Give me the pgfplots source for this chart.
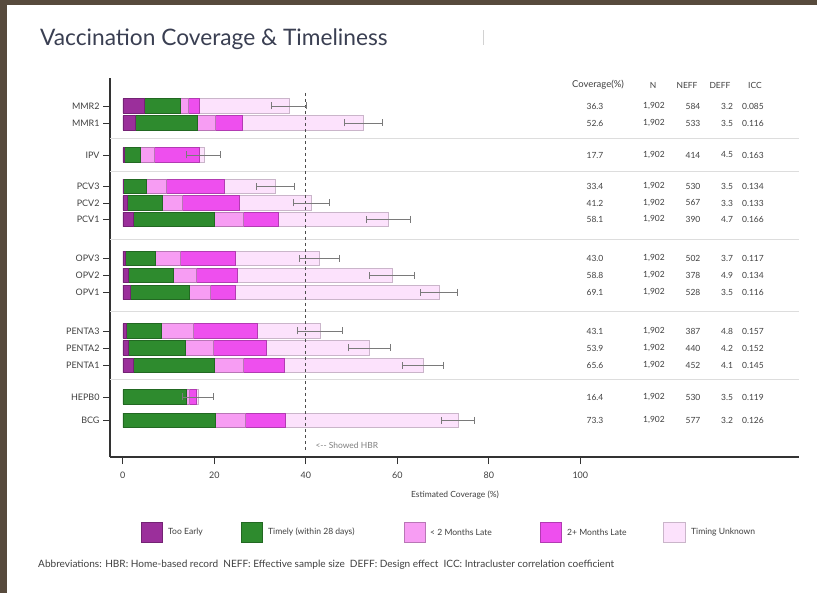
\documentclass[border=0pt]{standalone}
\usepackage{pgfplots}
\usepackage{pgfplotstable}
\pgfplotsset{compat=1.18}
\usepackage{fontspec}
\setmainfont{Lato}
\definecolor{early}{HTML}{9B2F9B}
\definecolor{timely}{HTML}{2E8B2E}
\definecolor{lt2}{HTML}{F79DF3}
\definecolor{ge2}{HTML}{EE4FEE}
\definecolor{unk}{HTML}{FCE2FC}
\definecolor{framec}{HTML}{574A3C}
\definecolor{titlec}{HTML}{3A3F52}
\definecolor{txt}{HTML}{404040}
\definecolor{errc}{HTML}{7A7A7A}
\definecolor{sepc}{HTML}{DDDDDD}

\pgfplotstableread{
y      early timely lt2 ge2  unk  cov  err
-106   4.7   7.8   1.9  2.3  19.6 36.3 3.8
-123   2.8   13.4  4.1  5.9  26.4 52.6 4.2
-155   0.3   3.5   3.0  9.9  1.0  17.7 3.7
-186.5 0.2   4.9   4.4  12.6 11.3 33.4 4.1
-203   0.9   7.8   4.3  12.5 15.7 41.2 4.0
-219.5 2.2   17.8  6.4  7.6  24.1 58.1 4.8
-258.5 0.6   6.5   5.4  12.0 18.5 43.0 4.3
-275.5 1.2   9.9   4.9  9.1  33.7 58.8 5.0
-292.5 1.6   13.0  4.5  5.4  44.6 69.1 4.0
-331   0.7   7.6   7.0  14.0 13.8 43.1 5.0
-348   1.2   12.5  6.0  11.6 22.6 53.9 4.6
-365.5 2.2   17.8  6.4  8.9  30.3 65.6 4.4
-397   0.0   13.8  0.8  1.4  0.4  16.4 3.4
-420.5 0.0   20.1  6.7  8.6  37.9 73.3 3.6
}\data

\pgfplotsset{base/.style={
  scale only axis, width=689bp, height=379bp,
  at={(110bp,136bp)}, anchor=south west,
  xmin=-2.8, xmax=147.8, ymin=-457, ymax=-78,
}}

\begin{document}
\begin{tikzpicture}
\useasboundingbox (0,0) rectangle (817bp,593bp);
\begin{scope}[x=1bp,y=1bp]
\fill[framec] (0,0) rectangle (817,593);
\fill[white] (7,0) rectangle (817,588);
\node[anchor=base west, text=titlec, inner sep=0pt, font=\fontsize{22.8}{26}\selectfont] at (40,547) {Vaccination Coverage \& Timeliness};
\draw[gray!35, line width=0.8] (483,548) -- (483,563);
\end{scope}

\begin{axis}[base,
  axis x line=bottom, axis y line=left,
  axis line style={-, line width=1.1pt, color=black!80},
  xtick={0,20,40,60,80,100},
  ytick={-106,-123,-155,-186.5,-203,-219.5,-258.5,-275.5,-292.5,-331,-348,-365.5,-397,-420.5},
  yticklabels={MMR2,MMR1,IPV,PCV3,PCV2,PCV1,OPV3,OPV2,OPV1,PENTA3,PENTA2,PENTA1,HEPB0,BCG},
  tick align=outside, major tick length=7bp,
  tick style={line width=0.8pt, color=black!80},
  ticklabel style={font=\fontsize{9}{10}\selectfont, text=txt},
  xticklabel style={yshift=-4bp},
  /pgf/number format/assume math mode=true,
  xbar stacked, bar width=14.5,
]
\addplot[fill=early, draw=early!75!black, line width=0.5pt] table[x=early, y=y] {\data};
\addplot[fill=timely, draw=timely!75!black, line width=0.5pt] table[x=timely, y=y] {\data};
\addplot[fill=lt2, draw=lt2!75!black, line width=0.5pt] table[x=lt2, y=y] {\data};
\addplot[fill=ge2, draw=ge2!75!black, line width=0.5pt] table[x=ge2, y=y] {\data};
\addplot[fill=unk, draw=unk!80!black, line width=0.5pt] table[x=unk, y=y] {\data};
\end{axis}

\begin{axis}[base, hide axis]
\addplot[sepc, line width=1.2pt] coordinates {(-2.8,-138.3) (147.8,-138.3)};
\addplot[sepc, line width=1.2pt] coordinates {(-2.8,-171.7) (147.8,-171.7)};
\addplot[sepc, line width=1.2pt] coordinates {(-2.8,-239.3) (147.8,-239.3)};
\addplot[sepc, line width=1.2pt] coordinates {(-2.8,-311.7) (147.8,-311.7)};
\addplot[sepc, line width=1.2pt] coordinates {(-2.8,-379.3) (147.8,-379.3)};
\addplot[black!70, line width=1.1pt, dash pattern=on 3bp off 3bp] coordinates {(40,-93) (40,-450)};
\addplot[draw=none, mark=none,
  error bars/.cd, x dir=both, x explicit,
  error bar style={line width=0.8pt, draw=errc},
  error mark options={rotate=90, line width=0.8pt, draw=errc, mark size=3.5bp}]
  table[x=cov, y=y, x error=err] {\data};
\end{axis}

\begin{scope}[x=1bp,y=1bp]
% x label and annotation
\node[text=txt, font=\fontsize{8.5}{10}\selectfont] at (455,98) {Estimated Coverage (\%)};
\node[anchor=west, text=gray, font=\fontsize{8.5}{10}\selectfont] at (312,148) {<{-}{-} Showed HBR};

% table
\begin{scope}[every node/.style={text=txt, font=\fontsize{8.5}{10}\selectfont, inner sep=0pt}]
\node[font=\fontsize{9.5}{11}\selectfont] at (598,508) {Coverage(\%)};
\node at (653,508) {N};
\node at (687,508) {NEFF};
\node at (720,508) {DEFF};
\node at (755,508) {ICC};
\foreach \yy/\c/\ne/\d/\i in {
 106/36.3/584/3.2/0.085,
 123/52.6/533/3.5/0.116,
 155/17.7/414/4.5/0.163,
 186.5/33.4/530/3.5/0.134,
 203/41.2/567/3.3/0.133,
 219.5/58.1/390/4.7/0.166,
 258.5/43.0/502/3.7/0.117,
 275.5/58.8/378/4.9/0.134,
 292.5/69.1/528/3.5/0.116,
 331/43.1/387/4.8/0.157,
 348/53.9/440/4.2/0.152,
 365.5/65.6/452/4.1/0.145,
 397/16.4/530/3.5/0.119,
 420.5/73.3/577/3.2/0.126}{
  \node at (595,593-\yy) {\c};
  \node at (654,593-\yy) {1,902};
  \node at (693,593-\yy) {\ne};
  \node at (727,593-\yy) {\d};
  \node at (753,593-\yy) {\i};
}
\end{scope}

% legend
\begin{scope}[every node/.style={text=txt, font=\fontsize{8.6}{10}\selectfont, anchor=west, inner sep=0pt}]
\filldraw[fill=early, draw=early!75!black, line width=0.5pt] (141,51) rectangle (162,71);
\node at (168,61) {Too Early};
\filldraw[fill=timely, draw=timely!75!black, line width=0.5pt] (241,51) rectangle (262,71);
\node at (268,61) {Timely (within 28 days)};
\filldraw[fill=lt2, draw=lt2!75!black, line width=0.5pt] (404,51) rectangle (425,71);
\node at (430,61) {< 2 Months Late};
\filldraw[fill=ge2, draw=ge2!75!black, line width=0.5pt] (540,51) rectangle (561,71);
\node at (567,61) {2+ Months Late};
\filldraw[fill=unk, draw=unk!80!black, line width=0.5pt] (663,51) rectangle (685,71);
\node at (691,61) {Timing Unknown};
\node[font=\fontsize{10.1}{12}\selectfont] at (38,28) {Abbreviations: HBR: Home-based record \ NEFF: Effective sample size \ DEFF: Design effect \ ICC: Intracluster correlation coefficient};
\end{scope}
\end{scope}
\end{tikzpicture}
\end{document}
